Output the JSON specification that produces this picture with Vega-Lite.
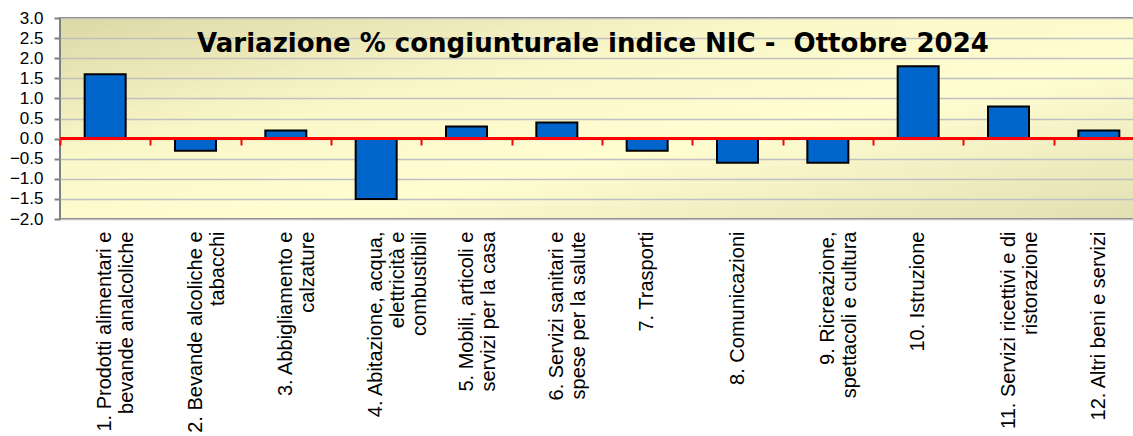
{
  "$schema": "https://vega.github.io/schema/vega-lite/v6.json",
  "autosize": "none",
  "padding": {"left": 60, "top": 18, "right": 0, "bottom": 217},
  "width": 1084,
  "height": 201,
  "background": "white",
  "title": {
    "text": "Variazione % congiunturale indice NIC - \u00a0Ottobre 2024",
    "font": "DejaVu Sans",
    "fontWeight": "bold",
    "fontSize": 26,
    "color": "black",
    "frame": "group",
    "anchor": "middle",
    "baseline": "alphabetic",
    "offset": -35,
    "dy": 34,
    "dx": -9
  },
  "data": {
    "values": [
      {"categoria": "1. Prodotti alimentari e\nbevande analcoliche", "variazione": 1.6},
      {"categoria": "2. Bevande alcoliche e\ntabacchi", "variazione": -0.3},
      {"categoria": "3. Abbigliamento e\ncalzature", "variazione": 0.2},
      {"categoria": "4. Abitazione, acqua,\nelettricità e\ncombustibili", "variazione": -1.5},
      {"categoria": "5. Mobili, articoli e\nservizi per la casa", "variazione": 0.3},
      {"categoria": "6. Servizi sanitari e\nspese per la salute", "variazione": 0.4},
      {"categoria": "7. Trasporti", "variazione": -0.3},
      {"categoria": "8. Comunicazioni", "variazione": -0.6},
      {"categoria": "9. Ricreazione,\nspettacoli e cultura", "variazione": -0.6},
      {"categoria": "10. Istruzione", "variazione": 1.8},
      {"categoria": "11. Servizi ricettivi e di\nristorazione", "variazione": 0.8},
      {"categoria": "12. Altri beni e servizi", "variazione": 0.2}
    ]
  },
  "resolve": {"axis": {"x": "independent"}},
  "layer": [
    {
      "mark": {"type": "bar", "size": 41, "fill": "#0066cc", "stroke": "black", "strokeWidth": 2},
      "encoding": {
        "x": {
          "field": "categoria",
          "type": "nominal",
          "sort": null,
          "scale": {"paddingInner": 0, "paddingOuter": 0},
          "axis": {
            "title": null,
            "orient": "bottom",
            "domain": false,
            "ticks": false,
            "grid": false,
            "labelAngle": -90,
            "labelAlign": "right",
            "labelBaseline": "middle",
            "labelPadding": 12,
            "labelFont": "Liberation Sans",
            "labelFontSize": 20,
            "labelLineHeight": 22,
            "labelColor": "black",
            "labelLimit": 0,
            "labelOverlap": false,
            "labelExpr": "split(datum.label, '\\n')"
          }
        },
        "y": {
          "field": "variazione",
          "type": "quantitative",
          "scale": {"domain": [-2, 3], "nice": false, "zero": true},
          "axis": {
            "title": null,
            "values": [-2, -1.5, -1, -0.5, 0, 0.5, 1, 1.5, 2, 2.5, 3],
            "format": ".1f",
            "domain": false,
            "tickColor": "#808080",
            "tickSize": 6,
            "tickWidth": 2,
            "labelPadding": 11,
            "labelFont": "Liberation Sans",
            "labelFontSize": 17,
            "labelColor": "black",
            "labelOverlap": false,
            "labelFlush": false,
            "grid": true,
            "gridColor": "#c0c0c0",
            "gridWidth": 1.5
          }
        }
      }
    },
    {
      "mark": {"type": "rule", "color": "#ff0000", "strokeWidth": 2.5},
      "encoding": {
        "y": {
          "datum": 0,
          "type": "quantitative",
          "axis": {
            "title": null,
            "values": [-2, -1.5, -1, -0.5, 0, 0.5, 1, 1.5, 2, 2.5, 3],
            "format": ".1f",
            "domain": false,
            "tickColor": "#808080",
            "tickSize": 6,
            "tickWidth": 2,
            "labelPadding": 11,
            "labelFont": "Liberation Sans",
            "labelFontSize": 17,
            "labelColor": "black",
            "labelOverlap": false,
            "labelFlush": false,
            "grid": true,
            "gridColor": "#c0c0c0",
            "gridWidth": 1.5
          }
        }
      }
    },
    {
      "mark": {"type": "point", "opacity": 0},
      "encoding": {
        "x": {
          "field": "categoria",
          "type": "nominal",
          "sort": null,
          "axis": {
            "title": null,
            "orient": "bottom",
            "offset": -80,
            "domain": false,
            "labels": false,
            "grid": false,
            "ticks": true,
            "tickBand": "extent",
            "tickColor": "#ff0000",
            "tickWidth": 2,
            "tickSize": 6
          }
        },
        "y": {
          "datum": 0,
          "type": "quantitative",
          "axis": {
            "title": null,
            "values": [-2, -1.5, -1, -0.5, 0, 0.5, 1, 1.5, 2, 2.5, 3],
            "format": ".1f",
            "domain": false,
            "tickColor": "#808080",
            "tickSize": 6,
            "tickWidth": 2,
            "labelPadding": 11,
            "labelFont": "Liberation Sans",
            "labelFontSize": 17,
            "labelColor": "black",
            "labelOverlap": false,
            "labelFlush": false,
            "grid": true,
            "gridColor": "#c0c0c0",
            "gridWidth": 1.5
          }
        }
      }
    }
  ],
  "config": {
    "view": {
      "stroke": "#808080",
      "strokeWidth": 2,
      "fill": {
        "gradient": "linear",
        "x1": 0, "y1": 0, "x2": 1, "y2": 1,
        "stops": [
          {"offset": 0, "color": "#dcd8a6"},
          {"offset": 0.35, "color": "#faf7c9"},
          {"offset": 0.6, "color": "#fffdd2"},
          {"offset": 1, "color": "#e2dfb2"}
        ]
      }
    }
  }
}
